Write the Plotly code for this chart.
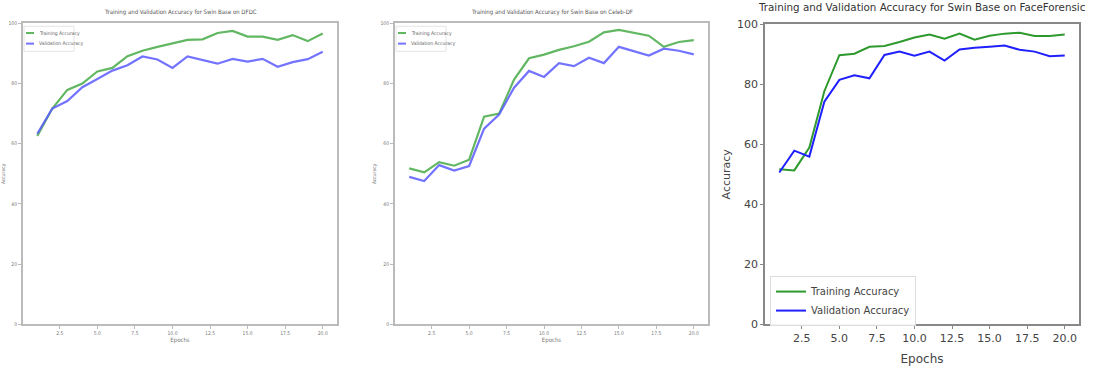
import plotly.graph_objects as go

epochs = list(range(1, 21))

dfdc_train = [62.6, 71.7, 77.9, 80.0, 84.0, 85.2, 89.1, 90.9, 92.2, 93.4,
              94.5, 94.7, 96.8, 97.5, 95.6, 95.6, 94.5, 96.1, 94.1, 96.6]
dfdc_val = [63.3, 71.7, 74.2, 78.8, 81.5, 84.3, 86.1, 89.0, 88.0, 85.2,
            89.0, 87.7, 86.6, 88.2, 87.3, 88.2, 85.6, 87.1, 88.1, 90.6]

celeb_train = [51.8, 50.5, 53.9, 52.7, 54.7, 69.0, 70.0, 81.3, 88.4, 89.6,
               91.2, 92.4, 93.9, 97.0, 97.8, 96.8, 95.9, 92.2, 93.8, 94.4]
celeb_val = [49.0, 47.6, 52.9, 51.1, 52.6, 65.0, 69.7, 78.6, 84.2, 82.2,
             86.8, 85.8, 88.6, 86.8, 92.2, 90.8, 89.3, 91.6, 90.9, 89.7]

ff_train = [51.7, 51.3, 58.9, 77.7, 89.7, 90.2, 92.5, 92.8, 94.1, 95.6,
            96.6, 95.2, 96.9, 94.9, 96.2, 96.9, 97.2, 96.1, 96.1, 96.6]
ff_val = [50.6, 57.9, 55.9, 74.2, 81.5, 83.0, 82.0, 89.8, 90.9, 89.5,
          90.9, 87.9, 91.6, 92.2, 92.5, 92.9, 91.5, 90.9, 89.4, 89.6]

titles = ["Training and Validation Accuracy for Swin Base on DFDC",
          "Training and Validation Accuracy for Swin Base on Celeb-DF",
          "Training and Validation Accuracy for Swin Base on FaceForensic"]
series_names = ["Training Accuracy", "Validation Accuracy"]
x_ticks = [2.5, 5.0, 7.5, 10.0, 12.5, 15.0, 17.5, 20.0]
x_tick_text = ["2.5", "5.0", "7.5", "10.0", "12.5", "15.0", "17.5", "20.0"]
y_ticks = [0, 20, 40, 60, 80, 100]

W, H = 1095, 367
FONT = "Liberation Sans Narrow, DejaVu Sans Condensed, DejaVu Sans, sans-serif"
FONT3 = "DejaVu Sans, sans-serif"

# pixel boxes: (left, right, top, bottom)
boxes = [(23, 337, 18, 330), (395, 708, 18, 330), (765, 1079, 19, 330)]
small = [True, True, False]
datasets = [(dfdc_train, dfdc_val), (celeb_train, celeb_val), (ff_train, ff_val)]

fig = go.Figure()
shapes = []
for i, ((l, r, t, b), sm, (tr, va)) in enumerate(zip(boxes, small, datasets)):
    n = "" if i == 0 else str(i + 1)
    xa, ya = "x" + n, "y" + n
    if sm:
        cols, lw = ["rgba(70,170,70,0.85)", "rgba(90,90,255,0.85)"], 2.2
    else:
        cols, lw = ["#2e9a2e", "#2020ff"], 2
    for s, (vals, c) in enumerate(zip((tr, va), cols)):
        fig.add_trace(go.Scatter(x=epochs, y=vals, mode="lines", name=series_names[s],
                                 line=dict(color=c, width=lw), xaxis=xa, yaxis=ya,
                                 legend="legend", showlegend=not sm))
    tf = 5 if sm else 11
    tcol = "#777" if sm else "#444"
    fcol = "#bbb" if sm else "#888"
    fam = FONT if sm else FONT3
    xkey = "xaxis" + n
    ykey = "yaxis" + n
    fig.update_layout(**{
        xkey: dict(domain=[l / W, r / W], range=[0.05, 20.95], anchor=ya,
                   tickvals=x_ticks, ticktext=x_tick_text, ticks="outside", ticklen=3,
                   tickcolor=fcol, tickfont=dict(size=tf, color=tcol, family=fam),
                   showgrid=False, zeroline=False, showline=True, linecolor=fcol,
                   linewidth=2 if sm else 1.5, mirror=True,
                   title=dict(text="Epochs", font=dict(size=tf + 1 if sm else 12, color=tcol, family=fam),
                              standoff=2 if sm else 10)),
        ykey: dict(domain=[1 - b / H, 1 - t / H], range=[0, 100], anchor=xa,
                   tickvals=y_ticks, ticks="outside", ticklen=3,
                   tickcolor=fcol, tickfont=dict(size=tf, color=tcol, family=fam),
                   showgrid=False, zeroline=False, showline=True, linecolor=fcol,
                   linewidth=2 if sm else 1.5, mirror=True,
                   title=dict(text="Accuracy", font=dict(size=tf if sm else 11, color=tcol, family=fam),
                              standoff=4 if sm else 4)),
    })
    fig.add_annotation(text=titles[i], xref="paper", yref="paper",
                       x=(l + r) / 2 / W, y=1 - (6 if sm else 1) / H,
                       xanchor="center", yanchor="middle", showarrow=False,
                       font=dict(size=6 if sm else 10.3, color="#555" if sm else "#333", family=fam))
    if sm:
        # small key box in the top-left corner of the panel
        bx0, by0 = l + 1, t + 3
        shapes.append(dict(type="rect", xref="paper", yref="paper",
                           x0=bx0 / W, x1=(bx0 + 50) / W, y0=1 - by0 / H, y1=1 - (by0 + 26) / H,
                           line=dict(color="#e4e4e4", width=1), fillcolor="rgba(255,255,255,0.9)"))
        for s, c in enumerate(cols):
            yy = by0 + 7 + s * 11
            shapes.append(dict(type="line", xref="paper", yref="paper",
                               x0=(bx0 + 2) / W, x1=(bx0 + 10) / W, y0=1 - yy / H, y1=1 - yy / H,
                               line=dict(color=c, width=2)))
            fig.add_annotation(text=series_names[s], xref="paper", yref="paper",
                               x=(bx0 + 13) / W, y=1 - yy / H, xanchor="left", yanchor="middle",
                               showarrow=False, font=dict(size=5, color="#666", family=FONT))

l3, r3, t3, b3 = boxes[2]
fig.update_layout(
    width=W, height=H, margin=dict(l=0, r=0, t=0, b=0),
    paper_bgcolor="white", plot_bgcolor="white", showlegend=True, shapes=shapes,
    legend=dict(x=(l3 + 5) / W, y=1 - 280 / H, xanchor="left", yanchor="top",
                bgcolor="rgba(255,255,255,0.9)", bordercolor="#ddd", borderwidth=1,
                font=dict(size=10, color="#444", family=FONT3), itemwidth=30, tracegroupgap=0),
)
fig.write_html("out.html")
